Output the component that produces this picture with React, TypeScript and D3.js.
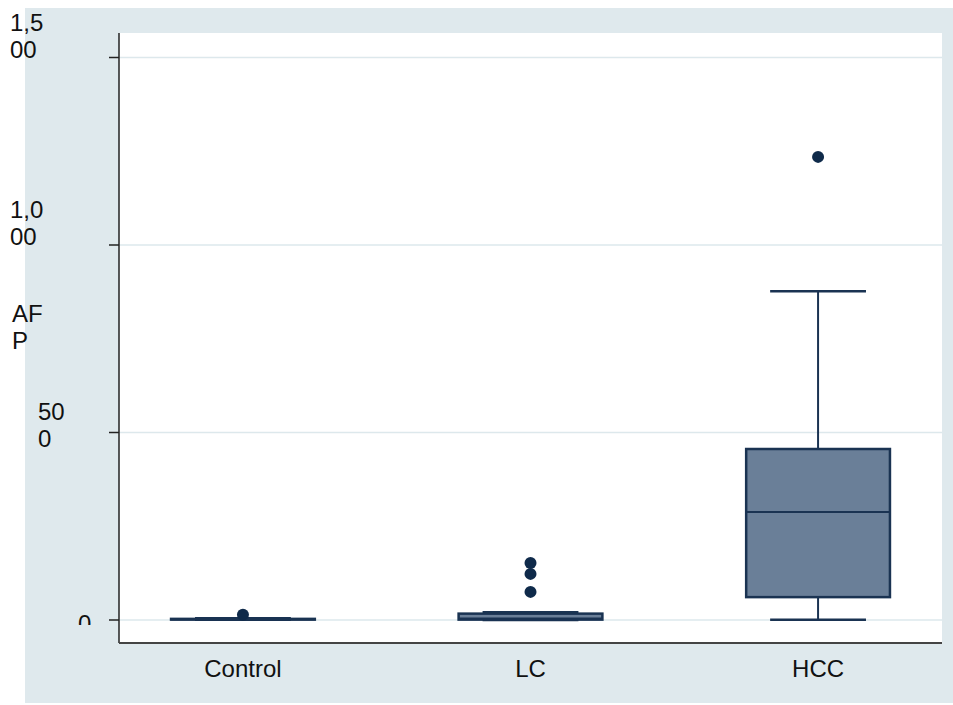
import React from "react";
import * as d3 from "d3";

const categories = ["Control", "LC", "HCC"];
const lowerWhisker = [0.5, 0, 1];
const q1Values = [1, 1, 61];
const medians = [2, 4, 288];
const q3Values = [3, 17, 456];
const upperWhisker = [5, 21, 877];
const outliers: number[][] = [[14], [75, 123, 152], [1235]];
const yTicks = [0, 500, 1000, 1500];
const yTickLabelLines = [["0"], ["50", "0"], ["1,0", "00"], ["1,5", "00"]];
const yTitleLines = ["AF", "P"];

const W = 953;
const H = 705;
const plotL = 119;
const plotR = 942;
const plotT = 33;
const plotB = 643;

const bg = "#dfe9ed";
const boxFill = "#6a7f98";
const navy = "#1a3352";
const dotColor = "#0f2a4a";
const FONT = "Arial, 'Liberation Sans', sans-serif";

// layout offsets for the wrapped y tick labels [x, firstBaselineOffsetFromTick]
const labelLayout = [
  { x: 78, dy: 12 },
  { x: 38, dy: -13 },
  { x: 10, dy: -27 },
  { x: 10, dy: -27 },
];

export default function App() {
  const y = d3.scaleLinear().domain([0, 1500]).range([620, 57.5]);
  const x = d3.scalePoint<string>().domain(categories).range([plotL, plotR]).padding(0.431);
  const step = x.step();
  const boxW = step * 0.5;
  const capW = boxW * 2 / 3;

  return (
    <svg width={W} height={H} style={{ position: "absolute", left: 0, top: 0 }} fontFamily={FONT}>
      <defs>
        <clipPath id="zeroClip">
          <rect x={0} y={0} width={W} height={625} />
        </clipPath>
      </defs>
      <rect x={0} y={0} width={W} height={H} fill="#ffffff" />
      <rect x={25} y={8} width={W - 25} height={703 - 8} fill={bg} />
      <rect x={plotL} y={plotT} width={plotR - plotL} height={plotB - plotT} fill="#ffffff" />
      {yTicks.map((t) => (
        <line key={"g" + t} x1={plotL} x2={plotR} y1={y(t)} y2={y(t)} stroke="#dde8ec" strokeWidth={1.5} />
      ))}
      {/* axes */}
      <line x1={plotL} x2={plotL} y1={plotT} y2={plotB} stroke="#222" strokeWidth={1.5} />
      <line x1={plotL} x2={plotR} y1={plotB} y2={plotB} stroke="#444" strokeWidth={2} />
      {yTicks.map((t, i) => (
        <g key={"t" + t}>
          <line x1={plotL - 10} x2={plotL} y1={y(t)} y2={y(t)} stroke="#222" strokeWidth={1.5} />
          <text
            fontSize={24}
            fill="#111"
            clipPath={t === 0 ? "url(#zeroClip)" : undefined}
          >
            {yTickLabelLines[i].map((ln, j) => (
              <tspan key={j} x={labelLayout[i].x} y={y(t) + labelLayout[i].dy + j * 27}>
                {ln}
              </tspan>
            ))}
          </text>
        </g>
      ))}
      <text fontSize={24} fill="#111">
        {yTitleLines.map((ln, j) => (
          <tspan key={j} x={12} y={322 + j * 27}>
            {ln}
          </tspan>
        ))}
      </text>
      {categories.map((c) => (
        <text key={"xl" + c} x={x(c)} y={677} fontSize={24} textAnchor="middle" fill="#111">
          {c}
        </text>
      ))}
      {/* boxes */}
      {categories.map((c, i) => {
        const cx = x(c) as number;
        return (
          <g key={"b" + c}>
            <line x1={cx} x2={cx} y1={y(q3Values[i])} y2={y(upperWhisker[i])} stroke={navy} strokeWidth={2} />
            <line x1={cx} x2={cx} y1={y(q1Values[i])} y2={y(lowerWhisker[i])} stroke={navy} strokeWidth={2} />
            <line x1={cx - capW / 2} x2={cx + capW / 2} y1={y(upperWhisker[i])} y2={y(upperWhisker[i])} stroke={navy} strokeWidth={2.5} />
            <line x1={cx - capW / 2} x2={cx + capW / 2} y1={y(lowerWhisker[i])} y2={y(lowerWhisker[i])} stroke={navy} strokeWidth={2.5} />
            <rect
              x={cx - boxW / 2}
              y={y(q3Values[i])}
              width={boxW}
              height={Math.max(0.5, y(q1Values[i]) - y(q3Values[i]))}
              fill={boxFill}
              stroke={navy}
              strokeWidth={2.5}
            />
            <line x1={cx - boxW / 2} x2={cx + boxW / 2} y1={y(medians[i])} y2={y(medians[i])} stroke={navy} strokeWidth={2} />
            {outliers[i].map((v, k) => (
              <circle key={k} cx={cx} cy={y(v)} r={6} fill={dotColor} />
            ))}
          </g>
        );
      })}
    </svg>
  );
}
